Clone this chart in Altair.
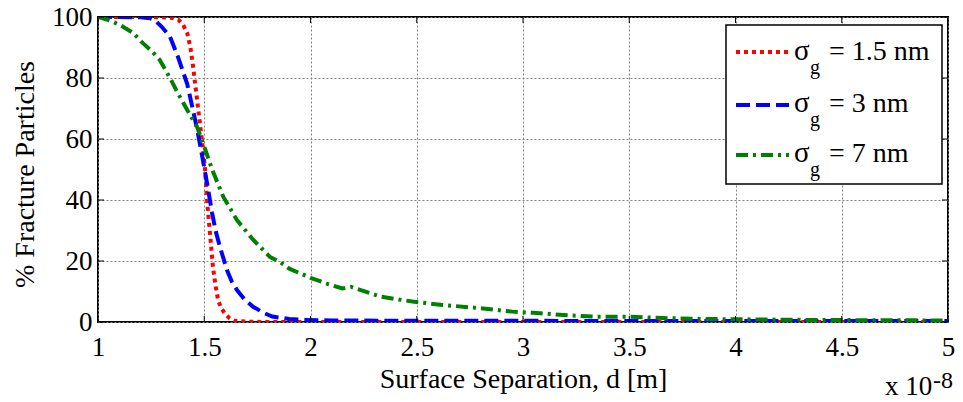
import altair as alt
import pandas as pd

# ---- data (x in units of 1e-8 m) ----
red_x = [1.0, 1.1, 1.2, 1.3, 1.35, 1.38, 1.40, 1.42, 1.435, 1.447, 1.466, 1.485, 1.503, 1.513,
         1.527, 1.541, 1.553, 1.565, 1.58, 1.6, 1.62, 1.64, 1.7, 1.8, 2.0, 2.5, 3.0, 3.5, 4.0, 4.5, 5.0]
red_y = [100, 100, 100, 99.9, 99.7, 99, 97.5, 94.7, 90, 84, 73, 62, 51, 40,
         29, 18, 12, 7.2, 4.5, 2.5, 1.2, 0.4, 0.1, 0, 0, 0, 0, 0, 0, 0, 0]

blue_x = [1.0, 1.1, 1.2, 1.245, 1.27, 1.30, 1.339, 1.376, 1.42, 1.447, 1.47, 1.49, 1.513, 1.537,
          1.555, 1.574, 1.607, 1.63, 1.654, 1.69, 1.73, 1.78, 1.82, 1.9, 1.96, 2.1, 2.5, 3.0,
          3.5, 4.0, 4.5, 5.0]
blue_y = [100, 100, 99.9, 99.6, 98.8, 96.8, 93.5, 87, 78, 69.5, 62, 54.5, 45.6, 35.7,
          29.5, 24.6, 17, 13.2, 10.5, 7.4, 5, 3, 1.8, 1.0, 0.7, 0.5, 0.4, 0.4,
          0.3, 0.3, 0.3, 0.3]

green_x = [1.0, 1.05, 1.104, 1.165, 1.21, 1.25, 1.29, 1.339, 1.376, 1.42, 1.466, 1.494, 1.537,
           1.59, 1.654, 1.73, 1.81, 1.856, 1.9, 2.0, 2.08, 2.15, 2.19, 2.23, 2.33, 2.48, 2.62,
           2.80, 2.95, 3.05, 3.19, 3.35, 3.5, 3.66, 3.85, 4.0, 4.3, 4.6, 5.0]
green_y = [100, 99, 97.4, 94.8, 91.5, 89, 86, 80, 75, 69.5, 64, 58.7, 50,
           41, 33.4, 27, 21.3, 19.7, 17.5, 14.5, 12.5, 11, 11.5, 10.6, 8.3, 6.7, 5.6,
           4.5, 3.4, 3.0, 2.3, 1.7, 1.7, 1.3, 1.0, 0.9, 0.7, 0.6, 0.5]

series_names = ["σg = 1.5 nm", "σg = 3 nm", "σg = 7 nm"]
legend_texts = ["= 1.5 nm", "= 3 nm", "= 7 nm"]
colors = ["#ff0000", "#0000ff", "#008000"]
dashes = [[4, 4], [14, 6], [12, 5, 3, 5]]

x_ticks = [1, 1.5, 2, 2.5, 3, 3.5, 4, 4.5, 5]
y_ticks = [0, 20, 40, 60, 80, 100]

x_title = "Surface Separation, d [m]"
y_title = "% Fracture Particles"

W, H = 850, 305
FONT = "Liberation Serif"

rows = []
for name, xs, ys in zip(series_names, [red_x, blue_x, green_x], [red_y, blue_y, green_y]):
    for i, (a, b) in enumerate(zip(xs, ys)):
        rows.append({"series": name, "d": a, "pct": b, "order": i})
df = pd.DataFrame(rows)

xscale = alt.Scale(domain=[1, 5], nice=False, zero=False)
yscale = alt.Scale(domain=[0, 100], nice=False, zero=False)

x_axis = alt.Axis(
    values=x_ticks, title=x_title, format="~g",
    labelFont=FONT, labelFontSize=27, labelColor="black", labelBaseline="alphabetic",
    labelPadding=33, ticks=False, tickSize=0, domain=False,
    grid=True, gridColor="#808080", gridDash=[2, 2], gridWidth=1,
    titleFont=FONT, titleFontSize=28, titleFontWeight="normal", titleColor="black",
    titleBaseline="alphabetic", titleX=W / 2, titleY=65, labelFlush=False,
)
y_axis = alt.Axis(
    values=y_ticks, title=y_title,
    labelFont=FONT, labelFontSize=27, labelColor="black",
    labelPadding=6, ticks=False, tickSize=0, domain=False,
    grid=True, gridColor="#808080", gridDash=[2, 2], gridWidth=1,
    titleFont=FONT, titleFontSize=28, titleFontWeight="normal", titleColor="black",
    titleBaseline="alphabetic", titleAngle=-90, titleX=-65, titleY=157, labelFlush=False,
)

lines = alt.Chart(df).mark_line(strokeWidth=4, strokeCap="butt", clip=True).encode(
    x=alt.X("d:Q", scale=xscale, axis=x_axis),
    y=alt.Y("pct:Q", scale=yscale, axis=y_axis),
    color=alt.Color("series:N", scale=alt.Scale(domain=series_names, range=colors), legend=None),
    strokeDash=alt.StrokeDash("series:N", scale=alt.Scale(domain=series_names, range=dashes), legend=None),
    order="order:Q",
)

xt = pd.DataFrame({"d": x_ticks})
yt = pd.DataFrame({"pct": y_ticks})
tick_layers = [
    alt.Chart(xt).mark_rule(color="black", strokeWidth=1).encode(
        x=alt.X("d:Q", scale=xscale, axis=x_axis), y=alt.value(H - 6), y2=alt.value(H)),
    alt.Chart(xt).mark_rule(color="black", strokeWidth=1).encode(
        x=alt.X("d:Q", scale=xscale, axis=x_axis), y=alt.value(0), y2=alt.value(6)),
    alt.Chart(yt).mark_rule(color="black", strokeWidth=1).encode(
        y=alt.Y("pct:Q", scale=yscale, axis=y_axis), x=alt.value(0), x2=alt.value(6)),
    alt.Chart(yt).mark_rule(color="black", strokeWidth=1).encode(
        y=alt.Y("pct:Q", scale=yscale, axis=y_axis), x=alt.value(W - 6), x2=alt.value(W)),
]

one = pd.DataFrame({"k": [0]})
legend_layers = [
    alt.Chart(one).mark_rect(fill="white", stroke="black", strokeWidth=1.5).encode(
        x=alt.value(628), x2=alt.value(844), y=alt.value(8), y2=alt.value(167))
]
sym_y = [35, 88, 138]
base_y = [43, 95, 145]
for i in range(3):
    legend_layers.append(
        alt.Chart(one).mark_rule(color=colors[i], strokeWidth=4, strokeDash=dashes[i], strokeCap="butt").encode(
            x=alt.value(638), x2=alt.value(691), y=alt.value(sym_y[i]))
    )
    legend_layers.append(
        alt.Chart(one).mark_text(text="σ", font=FONT, fontSize=29, align="left", baseline="alphabetic",
                                 color="black").encode(x=alt.value(696), y=alt.value(base_y[i]))
    )
    legend_layers.append(
        alt.Chart(one).mark_text(text="g", font=FONT, fontSize=20, align="left", baseline="alphabetic",
                                 color="black").encode(x=alt.value(712), y=alt.value(base_y[i] + 14))
    )
    legend_layers.append(
        alt.Chart(one).mark_text(text=legend_texts[i], font=FONT, fontSize=28, align="left",
                                 baseline="alphabetic", color="black").encode(
            x=alt.value(731), y=alt.value(base_y[i]))
    )

exp_layers = [
    alt.Chart(one).mark_text(text="x 10", font=FONT, fontSize=27, align="left", baseline="alphabetic",
                             color="black").encode(x=alt.value(787), y=alt.value(H + 73)),
    alt.Chart(one).mark_text(text="-8", font=FONT, fontSize=24, align="left", baseline="alphabetic",
                             color="black").encode(x=alt.value(835), y=alt.value(H + 66)),
]

chart = alt.layer(lines, *tick_layers, *legend_layers, *exp_layers).properties(
    width=W, height=H,
    autosize=alt.AutoSizeParams(type="none"),
    padding={"left": 98, "top": 17, "right": 15, "bottom": 80},
    background="white",
).configure_view(stroke="black", strokeWidth=2)

chart.save("out.html", embed_options={"renderer": "svg", "actions": False})
